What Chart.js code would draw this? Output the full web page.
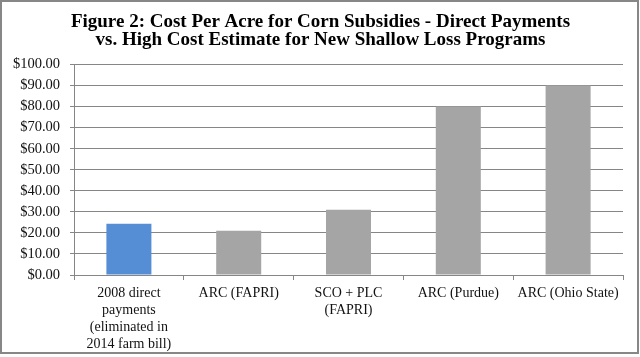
<!DOCTYPE html>
<html>
<head>
<meta charset="utf-8">
<script src="https://cdn.jsdelivr.net/npm/chart.js@4.4.0/dist/chart.umd.min.js"></script>
<style>
html,body{margin:0;padding:0;background:#fff;}
#wrap{width:640px;height:357px;position:relative;}
</style>
</head>
<body>
<div id="wrap"><canvas id="c" width="640" height="357"></canvas></div>
<script>
const categories = [
  ["2008 direct", "payments", "(eliminated in", "2014 farm bill)"],
  "ARC (FAPRI)",
  ["SCO + PLC", "(FAPRI)"],
  "ARC (Purdue)",
  "ARC (Ohio State)"
];
const costPerAcre = [24.4, 21, 31, 80, 90];
const barColors = ["#558ED5", "#A5A5A5", "#A5A5A5", "#A5A5A5", "#A5A5A5"];
const titleLines = [
  "Figure 2: Cost Per Acre for Corn Subsidies - Direct Payments",
  "vs. High Cost Estimate for New Shallow Loss Programs"
];
const yMin = 0, yMax = 100, yStep = 10;

const frame = {
  id: 'frame',
  afterDraw(chart) {
    const ctx = chart.ctx;
    ctx.save();
    ctx.strokeStyle = '#878787';
    ctx.lineWidth = 2;
    ctx.strokeRect(1, 1, 637, 352);
    ctx.fillStyle = '#000';
    ctx.font = 'bold 19px "Liberation Serif", serif';
    ctx.textAlign = 'center';
    ctx.textBaseline = 'alphabetic';
    titleLines.forEach((t, i) => ctx.fillText(t, 320.5, 27 + i * 18));
    ctx.restore();
  }
};

new Chart(document.getElementById('c'), {
  type: 'bar',
  data: {
    labels: categories,
    datasets: [{
      data: costPerAcre,
      backgroundColor: barColors,
      borderWidth: 0,
      categoryPercentage: 1,
      barPercentage: 0.41
    }]
  },
  plugins: [frame],
  options: {
    responsive: false,
    animation: false,
    devicePixelRatio: 1,
    layout: { padding: { top: 64.5, right: 17, bottom: 0, left: 0 } },
    plugins: { legend: { display: false }, title: { display: false }, tooltip: { enabled: false } },
    scales: {
      x: {
        grid: { display: true, drawOnChartArea: false, drawTicks: true, tickLength: 5, color: '#868686', offset: true },
        border: { display: true, color: '#868686', width: 1 },
        ticks: {
          color: '#111',
          font: { family: '"Liberation Serif", serif', size: 14, lineHeight: 1.214 },
          maxRotation: 0, autoSkip: false, padding: 5
        },
        afterFit(s) { s.height = 82; }
      },
      y: {
        min: yMin, max: yMax,
        grid: { color: '#868686', tickLength: 4, drawTicks: true },
        border: { display: true, color: '#868686', width: 1 },
        ticks: {
          stepSize: yStep,
          color: '#111',
          font: { family: '"Liberation Serif", serif', size: 14.5 },
          padding: 10,
          callback: v => '$' + v.toFixed(2)
        },
        afterFit(s) { s.width = 74; }
      }
    }
  }
});
</script>
</body>
</html>
